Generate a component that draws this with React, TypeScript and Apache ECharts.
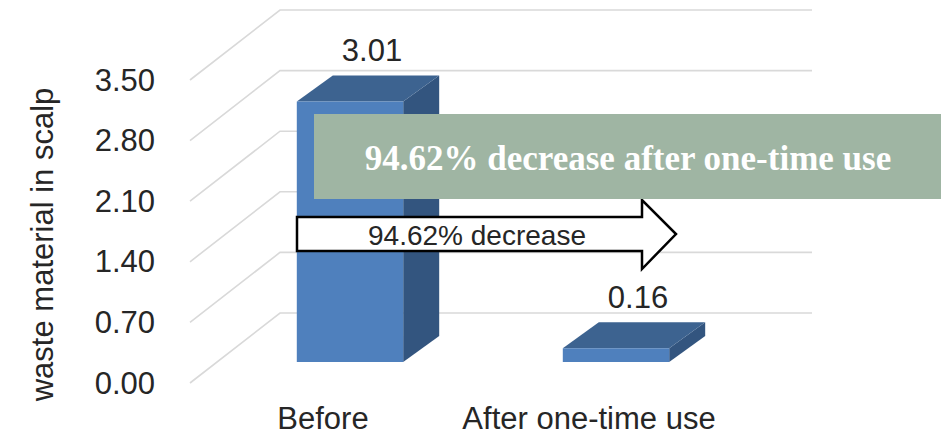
import React, { useEffect, useRef } from "react";
import * as echarts from "echarts";

const categories = ["Before", "After one-time use"];
const values = [3.01, 0.16];
const yMin = 0;
const yMax = 3.5;
const yInterval = 0.7;
const gridTicks = [0, 0.7, 1.4, 2.1, 2.8, 3.5];
const axisTitle = "waste material in scalp";
const arrowText = "94.62% decrease";
const boxText = "94.62% decrease after one-time use";

const FONT = "'Liberation Sans', Arial, sans-serif";
const WALL_DX = 90;
const WALL_DY = -70;
const BAR_FX = 27;
const BAR_FY = -21;
const DEPTH_DX = 36;
const DEPTH_DY = -26;

export default function App() {
  const ref = useRef<HTMLDivElement>(null);
  useEffect(() => {
    if (!ref.current) return;
    const chart = echarts.init(ref.current, null, { renderer: "svg" });
    const option: any = {
      animation: false,
      backgroundColor: "#ffffff",
      grid: { left: 190, right: 228, top: 80, bottom: 53, containLabel: false },
      xAxis: {
        type: "category",
        data: categories,
        axisLine: { show: false },
        axisTick: { show: false },
        axisLabel: { fontSize: 31, color: "#262626", fontFamily: FONT, margin: 20, interval: 0, hideOverlap: false },
        splitLine: { show: false },
      },
      yAxis: {
        type: "value",
        min: yMin,
        max: yMax,
        interval: yInterval,
        axisLine: { show: false },
        axisTick: { show: false },
        splitLine: { show: false },
        axisLabel: {
          fontSize: 31,
          color: "#262626",
          fontFamily: FONT,
          margin: 35,
          formatter: (v: number) => v.toFixed(2),
        },
        name: axisTitle,
        nameLocation: "middle",
        nameGap: 132,
        nameTextStyle: { fontSize: 31, color: "#262626", fontFamily: FONT, padding: [0, 26, 0, 0] },
      },
      series: [
        {
          type: "custom",
          silent: true,
          data: gridTicks.map((v) => [0, v]),
          renderItem: (params: any, api: any) => {
            const v = api.value(1);
            const p = api.coord([0, v]);
            const cs = params.coordSys;
            const x0 = cs.x;
            const x1 = cs.x + cs.width;
            const y = p[1];
            return {
              type: "polyline",
              shape: {
                points: [
                  [x0, y],
                  [x0 + WALL_DX, y + WALL_DY],
                  [x1 + WALL_DX, y + WALL_DY],
                ],
              },
              style: { stroke: "#d9d9d9", lineWidth: 1.6, fill: "none" },
            };
          },
          z: 1,
        },
        {
          type: "custom",
          data: values.map((v, i) => [i, v]),
          renderItem: (params: any, api: any) => {
            const idx = api.value(0);
            const val = api.value(1);
            const base = api.coord([idx, 0]);
            const top = api.coord([idx, val]);
            const w = api.size([1, 0])[0] * 0.4;
            const cx = base[0] + BAR_FX;
            const L = cx - w / 2;
            const R = cx + w / 2;
            const T = top[1] + BAR_FY;
            const B = base[1] + BAR_FY;
            return {
              type: "group",
              children: [
                {
                  type: "polygon",
                  shape: { points: [[R, T], [R + DEPTH_DX, T + DEPTH_DY], [R + DEPTH_DX, B + DEPTH_DY], [R, B]] },
                  style: { fill: "#33557f" },
                },
                {
                  type: "polygon",
                  shape: { points: [[L, T], [R, T], [R + DEPTH_DX, T + DEPTH_DY], [L + DEPTH_DX, T + DEPTH_DY]] },
                  style: { fill: "#3d6390" },
                },
                {
                  type: "rect",
                  shape: { x: L, y: T, width: R - L, height: B - T },
                  style: { fill: "#4f80bd" },
                },
                {
                  type: "text",
                  style: {
                    text: val.toFixed(2),
                    x: cx + 22,
                    y: T + DEPTH_DY - 25,
                    align: "center",
                    verticalAlign: "middle",
                    fontSize: 31,
                    fontFamily: FONT,
                    fill: "#262626",
                  },
                },
              ],
            };
          },
          z: 2,
        },
      ],
      graphic: [
        {
          type: "polygon",
          z: 100,
          shape: {
            points: [
              [297, 217],
              [642, 217],
              [642, 200],
              [676, 234],
              [642, 269],
              [642, 251],
              [297, 251],
            ],
          },
          style: { fill: "#ffffff", stroke: "#000000", lineWidth: 2.5 },
        },
        {
          type: "text",
          z: 101,
          style: {
            text: arrowText,
            x: 477,
            y: 235,
            align: "center",
            verticalAlign: "middle",
            fontSize: 28,
            fontFamily: FONT,
            fill: "#262626",
          },
        },
        {
          type: "rect",
          z: 102,
          shape: { x: 314, y: 114, width: 627, height: 85 },
          style: { fill: "#9fb5a3" },
        },
        {
          type: "text",
          z: 103,
          style: {
            text: boxText,
            x: 628,
            y: 158,
            align: "center",
            verticalAlign: "middle",
            fontSize: 35,
            fontWeight: "bold",
            fontFamily: "'Liberation Serif', 'Times New Roman', serif",
            fill: "#ffffff",
          },
        },
      ],
    };
    chart.setOption(option);
    return () => chart.dispose();
  }, []);
  return (
    <div
      ref={ref}
      style={{ position: "fixed", left: 0, top: 0, width: 950, height: 436 }}
    />
  );
}
